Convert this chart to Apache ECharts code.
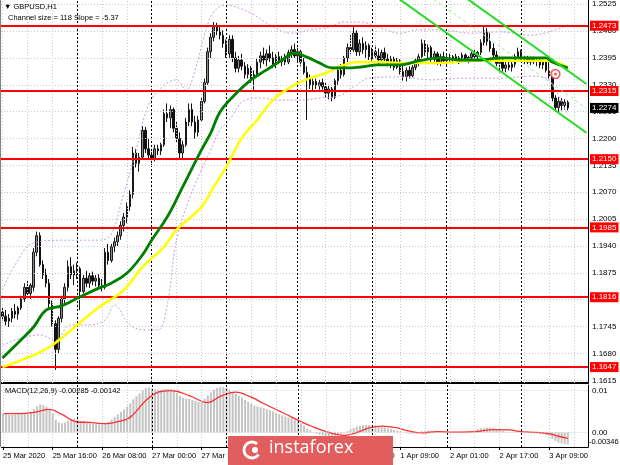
<!DOCTYPE html>
<html><head><meta charset="utf-8">
<script src="https://cdn.jsdelivr.net/npm/echarts@6/dist/echarts.min.js"></script>
<style>html,body{margin:0;padding:0;background:#fff}#c{width:620px;height:465px}</style>
</head><body><div id="c"></div>
<script>
// ---------- DATA ----------
const opens = [
1.1780,1.1770,1.1758,1.1765,1.1782,1.1775,1.1790,1.1812,1.1840,1.1825,
1.1840,1.1925,1.1965,1.1895,1.1870,1.1850,1.1800,1.1752,1.1690,1.1765,
1.1812,1.1840,1.1890,1.1870,1.1880,1.1885,1.1830,1.1862,1.1850,1.1868,
1.1855,1.1862,1.1845,1.1840,1.1925,1.1905,1.1938,1.1950,1.1965,1.1990,
1.2010,1.2035,1.2065,1.2165,1.2140,1.2155,1.2220,1.2175,1.2160,1.2150,
1.2175,1.2170,1.2185,1.2260,1.2250,1.2270,1.2225,1.2200,1.2165,1.2185,
1.2240,1.2270,1.2240,1.2215,1.2245,1.2290,1.2335,1.2410,1.2445,1.2470,
1.2460,1.2450,1.2430,1.2405,1.2440,1.2395,1.2370,1.2390,1.2375,1.2355,
1.2370,1.2345,1.2355,1.2385,1.2400,1.2390,1.2405,1.2395,1.2380,1.2398,
1.2385,1.2392,1.2385,1.2408,1.2415,1.2400,1.2410,1.2385,1.2360,1.2345,
1.2330,1.2338,1.2328,1.2335,1.2325,1.2310,1.2320,1.2300,1.2340,1.2365,
1.2355,1.2395,1.2420,1.2415,1.2455,1.2410,1.2430,1.2415,1.2425,1.2398,
1.2410,1.2400,1.2390,1.2408,1.2392,1.2385,1.2392,1.2372,1.2388,1.2362,
1.2350,1.2365,1.2352,1.2372,1.2390,1.2398,1.2430,1.2410,1.2420,1.2392,
1.2405,1.2385,1.2398,1.2388,1.2395,1.2390,1.2398,1.2388,1.2395,1.2402,
1.2390,1.2396,1.2405,1.2398,1.2408,1.2432,1.2460,1.2435,1.2418,1.2402,
1.2382,1.2390,1.2370,1.2378,1.2372,1.2380,1.2398,1.2410,1.2392,1.2396,
1.2385,1.2392,1.2386,1.2390,1.2378,1.2385,1.2365,1.2350,1.2298,1.2275,
1.2290,1.2280,1.2288];
const closes = [
1.1770,1.1758,1.1765,1.1782,1.1775,1.1790,1.1812,1.1840,1.1825,1.1845,
1.1925,1.1965,1.1895,1.1870,1.1850,1.1800,1.1752,1.1690,1.1765,1.1812,
1.1840,1.1890,1.1870,1.1880,1.1885,1.1830,1.1862,1.1850,1.1868,1.1855,
1.1862,1.1845,1.1840,1.1925,1.1905,1.1938,1.1950,1.1965,1.1990,1.2010,
1.2035,1.2065,1.2165,1.2140,1.2155,1.2220,1.2175,1.2160,1.2150,1.2175,
1.2170,1.2185,1.2260,1.2250,1.2270,1.2225,1.2200,1.2165,1.2185,1.2240,
1.2270,1.2240,1.2215,1.2245,1.2290,1.2335,1.2410,1.2445,1.2470,1.2460,
1.2450,1.2430,1.2405,1.2440,1.2395,1.2370,1.2390,1.2375,1.2355,1.2370,
1.2345,1.2355,1.2385,1.2400,1.2390,1.2405,1.2395,1.2380,1.2398,1.2385,
1.2392,1.2385,1.2408,1.2415,1.2400,1.2410,1.2385,1.2360,1.2345,1.2330,
1.2338,1.2328,1.2335,1.2325,1.2310,1.2320,1.2300,1.2340,1.2365,1.2355,
1.2395,1.2420,1.2415,1.2455,1.2410,1.2430,1.2415,1.2425,1.2398,1.2410,
1.2400,1.2390,1.2408,1.2392,1.2385,1.2392,1.2372,1.2388,1.2362,1.2350,
1.2365,1.2352,1.2372,1.2390,1.2398,1.2430,1.2410,1.2420,1.2392,1.2405,
1.2385,1.2398,1.2388,1.2395,1.2390,1.2398,1.2388,1.2395,1.2402,1.2390,
1.2396,1.2405,1.2398,1.2408,1.2432,1.2460,1.2435,1.2418,1.2402,1.2382,
1.2390,1.2370,1.2378,1.2372,1.2380,1.2398,1.2410,1.2392,1.2396,1.2385,
1.2392,1.2386,1.2390,1.2378,1.2385,1.2365,1.2350,1.2298,1.2275,1.2290,
1.2280,1.2288,1.2274];
const lows = [
1.1760,1.1748,1.1744,1.1755,1.1765,1.1762,1.1785,1.1805,1.1815,1.1812,
1.1830,1.1915,1.1890,1.1860,1.1840,1.1790,1.1745,1.1640,1.1680,1.1755,
1.1795,1.1830,1.1860,1.1845,1.1860,1.1785,1.1825,1.1840,1.1838,1.1845,
1.1842,1.1835,1.1830,1.1835,1.1895,1.1900,1.1925,1.1940,1.1955,1.1975,
1.1995,1.2025,1.2055,1.2130,1.2120,1.2150,1.2165,1.2150,1.2135,1.2145,
1.2160,1.2160,1.2180,1.2240,1.2225,1.2215,1.2190,1.2150,1.2150,1.2180,
1.2230,1.2230,1.2200,1.2205,1.2240,1.2285,1.2330,1.2395,1.2435,1.2450,
1.2440,1.2420,1.2395,1.2395,1.2385,1.2360,1.2360,1.2365,1.2345,1.2345,
1.2335,1.2315,1.2350,1.2370,1.2380,1.2375,1.2385,1.2370,1.2370,1.2380,
1.2375,1.2378,1.2380,1.2395,1.2395,1.2385,1.2375,1.2355,1.2245,1.2320,
1.2315,1.2320,1.2318,1.2318,1.2300,1.2295,1.2290,1.2295,1.2330,1.2345,
1.2350,1.2385,1.2405,1.2410,1.2400,1.2400,1.2405,1.2395,1.2390,1.2385,
1.2395,1.2380,1.2385,1.2385,1.2375,1.2370,1.2365,1.2368,1.2355,1.2340,
1.2338,1.2345,1.2348,1.2365,1.2375,1.2395,1.2400,1.2395,1.2385,1.2380,
1.2378,1.2375,1.2380,1.2376,1.2385,1.2382,1.2385,1.2380,1.2388,1.2385,
1.2382,1.2388,1.2392,1.2390,1.2402,1.2425,1.2425,1.2410,1.2395,1.2375,
1.2360,1.2362,1.2360,1.2365,1.2362,1.2372,1.2390,1.2385,1.2380,1.2380,
1.2378,1.2380,1.2375,1.2370,1.2368,1.2360,1.2345,1.2290,1.2265,1.2262,
1.2268,1.2270,1.2268];
const highs = [
1.1792,1.1785,1.1775,1.1790,1.1800,1.1795,1.1820,1.1850,1.1855,1.1850,
1.1935,1.1975,1.1973,1.1905,1.1885,1.1860,1.1808,1.1760,1.1770,1.1820,
1.1850,1.1905,1.1913,1.1895,1.1900,1.1890,1.1870,1.1880,1.1875,1.1878,
1.1870,1.1872,1.1860,1.1935,1.1945,1.1945,1.1960,1.1975,1.2000,1.2020,
1.2045,1.2075,1.2180,1.2175,1.2165,1.2230,1.2228,1.2200,1.2175,1.2185,
1.2185,1.2190,1.2270,1.2285,1.2280,1.2275,1.2240,1.2215,1.2195,1.2250,
1.2285,1.2285,1.2255,1.2255,1.2300,1.2345,1.2420,1.2455,1.2482,1.2480,
1.2475,1.2462,1.2440,1.2450,1.2450,1.2410,1.2400,1.2405,1.2385,1.2380,
1.2375,1.2365,1.2395,1.2410,1.2420,1.2415,1.2425,1.2410,1.2405,1.2410,
1.2400,1.2405,1.2415,1.2425,1.2430,1.2420,1.2415,1.2395,1.2375,1.2355,
1.2345,1.2345,1.2342,1.2345,1.2335,1.2330,1.2325,1.2345,1.2375,1.2380,
1.2400,1.2430,1.2450,1.2470,1.2462,1.2440,1.2445,1.2435,1.2430,1.2420,
1.2425,1.2418,1.2415,1.2420,1.2405,1.2400,1.2398,1.2395,1.2392,1.2378,
1.2372,1.2375,1.2378,1.2395,1.2405,1.2440,1.2438,1.2428,1.2425,1.2412,
1.2410,1.2405,1.2410,1.2402,1.2405,1.2402,1.2405,1.2400,1.2408,1.2406,
1.2400,1.2410,1.2414,1.2412,1.2440,1.2472,1.2468,1.2455,1.2430,1.2412,
1.2398,1.2395,1.2385,1.2390,1.2385,1.2405,1.2420,1.2415,1.2402,1.2400,
1.2398,1.2398,1.2396,1.2395,1.2392,1.2390,1.2388,1.2360,1.2305,1.2300,
1.2298,1.2295,1.2292];

const greenBars = [0,6,10,14,19,25,31,35,40,45,48,53,58,64,67,70,74,80,85,90,94,98,102,106,111,115,121,128,134,141,147,154,160,167,175,177,182];
const greenVals = [1.1669,1.1713,1.1744,1.1785,1.1795,1.1817,1.1838,1.1850,1.1874,1.1918,1.1954,1.2010,1.2083,1.2172,1.2213,1.2264,1.2300,1.2342,1.2366,1.2390,1.2407,1.2397,1.2383,1.2371,1.2371,1.2373,1.2378,1.2378,1.2388,1.2395,1.2390,1.2390,1.2395,1.2395,1.2395,1.2385,1.2371];
const yellowBars = [0,10,16,24,31,39,45,52,56,64,68,72,77,82,87,94,99,105,110,115,122,128,141,152,163,175,179,182];
const yellowVals = [1.1647,1.1676,1.1700,1.1749,1.1792,1.1833,1.1889,1.1938,1.1979,1.2034,1.2083,1.2131,1.2201,1.2245,1.2293,1.2330,1.2346,1.2361,1.2378,1.2385,1.2385,1.2383,1.2383,1.2388,1.2388,1.2388,1.2383,1.2373];
const bandUpBars = [0,4,10,19,31,35,38,43,47,52,56,59,62,65,68,72,76,81,86,93,99,105,110,115,122,128,134,141,151,160,170,178,182];
const bandUpVals = [1.1834,1.1894,1.1947,1.1954,1.1954,1.1969,1.2039,1.2172,1.2281,1.2329,1.2342,1.2317,1.2366,1.2450,1.2506,1.2523,1.2516,1.2499,1.2475,1.2455,1.2463,1.2470,1.2482,1.2482,1.2467,1.2455,1.2463,1.2463,1.2455,1.2458,1.2450,1.2463,1.2475];
const bandLoBars = [0,6,12,17,22,28,33,36,41,46,50,53,56,60,64,67,70,73,78,83,89,96,102,109,114,118,128,138,147,160,170,175,178,182];
const bandLoVals = [1.1700,1.1717,1.1725,1.1712,1.1749,1.1749,1.1761,1.1797,1.1749,1.1737,1.1737,1.1797,1.1954,1.2051,1.2124,1.2172,1.2221,1.2245,1.2293,1.2298,1.2293,1.2293,1.2298,1.2305,1.2330,1.2346,1.2349,1.2342,1.2346,1.2346,1.2351,1.2346,1.2317,1.2257];

// regression channel endpoints (bar, price)
const channelBars = [120,188];
const channelUpper = [1.2697,1.2332];
const channelMid = [1.2638,1.2273];
const channelLower = [1.2579,1.2214];

const levels = [1.2473,1.2315,1.2150,1.1985,1.1816,1.1647];
const currentPrice = 1.2274;
const priceTicks = [1.2525,1.2460,1.2395,1.2330,1.2265,1.2200,1.2135,1.2070,1.2005,1.1940,1.1875,1.1810,1.1745,1.1680,1.1615];
const markerBar = 178, markerPrice = 1.2356;

const macdHist = [
0.0044,0.0043,0.0042,0.0042,0.0043,0.0043,0.0044,0.0046,0.0048,0.0050,
0.0056,0.0062,0.0067,0.0065,0.0062,0.0055,0.0046,0.0030,0.0024,0.0022,
0.0024,0.0028,0.0032,0.0033,0.0030,0.0028,0.0027,0.0025,0.0023,0.0021,
0.0020,0.0019,0.0019,0.0022,0.0026,0.0031,0.0037,0.0043,0.0049,0.0055,
0.0062,0.0069,0.0079,0.0086,0.0093,0.0100,0.0106,0.0107,0.0105,0.0103,
0.0102,0.0101,0.0103,0.0104,0.0103,0.0099,0.0094,0.0087,0.0082,0.0080,
0.0080,0.0078,0.0075,0.0073,0.0075,0.0080,0.0088,0.0095,0.0102,0.0106,
0.0108,0.0108,0.0106,0.0102,0.0097,0.0092,0.0087,0.0083,0.0078,0.0073,
0.0069,0.0064,0.0062,0.0060,0.0058,0.0056,0.0053,0.0050,0.0047,0.0044,
0.0041,0.0038,0.0036,0.0034,0.0031,0.0027,0.0022,0.0016,0.0009,0.0005,
0.0001,-0.0003,-0.0005,-0.0007,-0.0008,-0.0009,-0.0010,-0.0008,-0.0006,-0.0004,
-0.0001,0.0003,0.0007,0.0011,0.0014,0.0016,0.0017,0.0018,0.0018,0.0017,
0.0016,0.0014,0.0013,0.0012,0.0010,0.0008,0.0006,0.0004,0.0002,0.0000,
-0.0002,-0.0003,-0.0003,-0.0002,0.0000,0.0003,0.0004,0.0004,0.0003,0.0003,
0.0002,0.0002,0.0001,0.0001,0.0001,0.0000,0.0000,0.0001,0.0001,0.0001,
0.0002,0.0003,0.0005,0.0008,0.0010,0.0011,0.0012,0.0012,0.0010,0.0008,
0.0006,0.0004,0.0002,0.0001,0.0000,0.0001,0.0002,0.0002,0.0001,0.0000,
-0.0001,-0.0001,-0.0002,-0.0003,-0.0004,-0.0006,-0.0009,-0.0015,-0.0020,-0.0024,
-0.0026,-0.0028,-0.00285];
const signalBars = [0,5,10,15,19,24,28,33,37,41,46,50,54,60,66,70,75,80,84,91,96,99,105,110,113,118,122,127,131,135,140,145,152,158,163,167,172,176,179,182];
const signalVals = [0.0045,0.0045,0.0048,0.0055,0.0043,0.0025,0.0024,0.0021,0.0026,0.0036,0.0076,0.0096,0.0100,0.0088,0.0071,0.0086,0.0096,0.0084,0.0069,0.0044,0.0026,0.0016,0.0000,-0.0007,-0.0003,0.0011,0.0015,0.0011,0.0003,-0.0001,0.0002,0.0001,0.0002,0.0007,0.0006,0.0002,0.0000,-0.0003,-0.0009,-0.00142];
const macdTicks = [0.01,0.00];
const macdMinLabel = -0.00346;

const xLabelBars = [0,16,32,48,64,80,96,112,128,144,160,176];
const xLabels = ['25 Mar 2020','25 Mar 16:00','26 Mar 08:00','27 Mar 00:00','27 Mar 16:00','30 Mar 09:00','31 Mar 01:00','31 Mar 17:00','1 Apr 09:00','2 Apr 01:00','2 Apr 17:00','3 Apr 09:00'];
const gridBars = [0,8,16,24,32,40,48,56,64,72,80,88,96,104,112,120,128,136,144,152,160,168,176,184];
const daySepBars = [24,48,72,95,119,143,167];

// ---------- CHART ----------
const NCAT = 189;
const cats = []; for (let i = 0; i < NCAT; i++) cats.push(String(i));
const FONT = 'Liberation Sans';
const pairs = (b, v) => b.map((x, i) => [x, v[i]]);
const candleData = opens.map((o, i) => [o, closes[i], lows[i], highs[i]]);
const CLEAR = 'rgba(0,0,0,0)';

const vLines = (gi) => ({
  type:'line', xAxisIndex:gi, yAxisIndex:gi, data:[], silent:true, z:1,
  markLine:{ symbol:['none','none'], silent:true, animation:false, label:{show:false},
    data: gridBars.map(b => ({xAxis:b, lineStyle:{color:'#c8c8c8', type:[1,2], width:1}}))
      .concat(daySepBars.map(b => ({xAxis:b, lineStyle:{color:'#000', type:[2,2], width:1}}))) }
});

const chart = echarts.init(document.getElementById('c'), null, {width:620, height:465});
const option = {
  animation:false,
  backgroundColor:'#ffffff',
  grid:[{left:1, right:32, top:0, height:383},{left:1, right:32, top:385, height:62}],
  xAxis:[
    {type:'category', gridIndex:0, data:cats, boundaryGap:true,
     axisLine:{show:true, onZero:false, lineStyle:{color:'#000', width:2}},
     axisTick:{show:false}, axisLabel:{show:false}, splitLine:{show:false}},
    {type:'category', gridIndex:1, data:cats, boundaryGap:true,
     axisLine:{show:true, onZero:false, lineStyle:{color:'#000', width:1}},
     axisTick:{show:true, alignWithLabel:true, length:3, interval:(i)=>xLabelBars.indexOf(i)>=0, lineStyle:{color:'#000'}},
     axisLabel:{show:true, interval:(i)=>xLabelBars.indexOf(i)>=0, formatter:(v,i)=>xLabels[xLabelBars.indexOf(Number(v))] || '',
       align:'left', fontSize:7.5, fontFamily:FONT, color:'#000', margin:5},
     splitLine:{show:false}}
  ],
  yAxis:[
    {type:'value', gridIndex:0, position:'right', min:1.16085, max:1.25352, scale:true,
     axisLine:{show:true, lineStyle:{color:'#000'}}, axisTick:{show:false}, axisLabel:{show:false}, splitLine:{show:false}},
    {type:'value', gridIndex:1, position:'right', min:-0.00346, max:0.01131,
     axisLine:{show:true, lineStyle:{color:'#000'}}, axisTick:{show:false}, axisLabel:{show:false}, splitLine:{show:false}}
  ],
  series:[
    vLines(0), vLines(1),
    // price grid + tick labels
    {type:'line', xAxisIndex:0, yAxisIndex:0, data:[], silent:true, z:1,
     markLine:{symbol:['none','none'], silent:true, animation:false, precision:5,
       label:{show:true, position:'end', distance:4, fontSize:8, fontFamily:FONT, color:'#000', formatter:p=>Number(p.value).toFixed(4)},
       lineStyle:{color:'#c8c8c8', type:[1,2], width:1},
       data: priceTicks.map(t => ({yAxis:t}))}},
    {type:'candlestick', xAxisIndex:0, yAxisIndex:0, data:candleData, barWidth:2, z:3,
     itemStyle:{color:'#8a8a8a', color0:'#111111', borderColor:'#1a1a1a', borderColor0:'#111', borderWidth:1}},
    // bands
    {type:'line', xAxisIndex:0, yAxisIndex:0, data:pairs(bandUpBars, bandUpVals), smooth:0.4, symbol:'none', z:4,
     lineStyle:{color:'#c79be0', width:1, type:[2,2]}},
    {type:'line', xAxisIndex:0, yAxisIndex:0, data:pairs(bandLoBars, bandLoVals), smooth:0.4, symbol:'none', z:4,
     lineStyle:{color:'#c79be0', width:1, type:[2,2]}},
    // moving averages
    {type:'line', xAxisIndex:0, yAxisIndex:0, data:pairs(yellowBars, yellowVals), smooth:0.4, symbol:'none', z:5,
     lineStyle:{color:'#ffff00', width:2.5}},
    {type:'line', xAxisIndex:0, yAxisIndex:0, data:pairs(greenBars, greenVals), smooth:0.4, symbol:'none', z:6,
     lineStyle:{color:'#008000', width:2.8}},
    // channel
    {type:'line', xAxisIndex:0, yAxisIndex:0, data:pairs(channelBars, channelUpper), symbol:'none', clip:true, z:7,
     lineStyle:{color:'#22dd22', width:2}},
    {type:'line', xAxisIndex:0, yAxisIndex:0, data:pairs(channelBars, channelLower), symbol:'none', clip:true, z:7,
     lineStyle:{color:'#22dd22', width:2}},
    {type:'line', xAxisIndex:0, yAxisIndex:0, data:pairs(channelBars, channelMid), symbol:'none', clip:true, z:7,
     lineStyle:{color:'#90ee90', width:1, type:[3,3]}},
    // levels
    {type:'line', xAxisIndex:0, yAxisIndex:0, data:[], silent:true, z:8,
     markLine:{symbol:['none','none'], silent:true, animation:false, precision:5,
       lineStyle:{color:'#ff0000', width:2, type:'solid'},
       label:{show:true, position:'end', distance:2, fontSize:8, fontFamily:FONT, color:'#fff', backgroundColor:'#ff0000', padding:[1,2,1,2], formatter:p=>Number(p.value).toFixed(4)},
       data: levels.map(l => ({yAxis:l}))}},
    {type:'line', xAxisIndex:0, yAxisIndex:0, data:[], silent:true, z:9,
     markLine:{symbol:['none','none'], silent:true, animation:false, precision:5,
       lineStyle:{color:CLEAR, width:1},
       label:{show:true, position:'end', distance:2, fontSize:8, fontFamily:FONT, color:'#fff', backgroundColor:'#000', padding:[1,2,1,2], formatter:p=>Number(p.value).toFixed(4)},
       data:[{yAxis:currentPrice}]}},
    // marker
    {type:'scatter', xAxisIndex:0, yAxisIndex:0, data:[[markerBar, markerPrice]], symbol:'circle', symbolSize:9, z:10,
     itemStyle:{color:'#ffffff', borderColor:'#e53030', borderWidth:1.5}},
    {type:'scatter', xAxisIndex:0, yAxisIndex:0, data:[[markerBar, markerPrice]], symbol:'circle', symbolSize:3, z:11,
     itemStyle:{color:'#e53030'}},
    // MACD
    {type:'line', xAxisIndex:1, yAxisIndex:1, data:[], silent:true, z:1,
     markLine:{symbol:['none','none'], silent:true, animation:false, precision:5,
       label:{show:true, position:'end', distance:4, fontSize:8, fontFamily:FONT, color:'#000', formatter:p=>Number(p.value).toFixed(2)},
       lineStyle:{color:'#c8c8c8', type:[1,2], width:1},
       data: macdTicks.map(t => ({yAxis:t}))}},
    {type:'line', xAxisIndex:1, yAxisIndex:1, data:[], silent:true, z:1,
     markLine:{symbol:['none','none'], silent:true, animation:false, precision:6,
       label:{show:true, position:'end', distance:1, offset:[0,-5], fontSize:7.5, fontFamily:FONT, color:'#000', formatter:p=>Number(p.value).toFixed(5)},
       lineStyle:{color:CLEAR, width:1},
       data:[{yAxis:macdMinLabel}]}},
    {type:'bar', xAxisIndex:1, yAxisIndex:1, data:macdHist, barWidth:2, z:3, itemStyle:{color:'#c4c4c4'}},
    {type:'line', xAxisIndex:1, yAxisIndex:1, data:pairs(signalBars, signalVals), smooth:0.4, symbol:'none', z:4,
     lineStyle:{color:'#ff3030', width:1.3}}
  ],
  graphic:[
    {type:'line', z:50, shape:{x1:0.5, y1:0, x2:0.5, y2:447}, style:{stroke:'#808080', lineWidth:1}},
    {type:'text', z:50, left:4, top:3, style:{text:'▼ GBPUSD,H1', fontSize:7.5, fontFamily:FONT, fill:'#000'}},
    {type:'text', z:50, left:8, top:14, style:{text:'Channel size = 118 Slope = -5.37', fontSize:7.5, fontFamily:FONT, fill:'#000'}},
    {type:'text', z:50, left:5, top:387, style:{text:'MACD(12,26,9) -0.00285 -0.00142', fontSize:7.5, fontFamily:FONT, fill:'#000'}},
    {type:'group', z:100, children:[
      {type:'rect', z:100, shape:{x:228, y:436, width:165, height:29}, style:{fill:'#e25e5e'}},
      {type:'arc', z:101, shape:{cx:252, cy:450, r:8, startAngle:0.6, endAngle:5.4}, style:{stroke:'#fff', lineWidth:3, fill:null}},
      {type:'circle', z:101, shape:{cx:255, cy:450, r:3}, style:{fill:'#fff'}},
      {type:'text', z:101, x:269, y:439, style:{text:'instaforex', fontSize:18, fontFamily:'Open Sans', fill:'#fff'}}
    ]}
  ]
};
chart.setOption(option);
</script>
</body></html>
